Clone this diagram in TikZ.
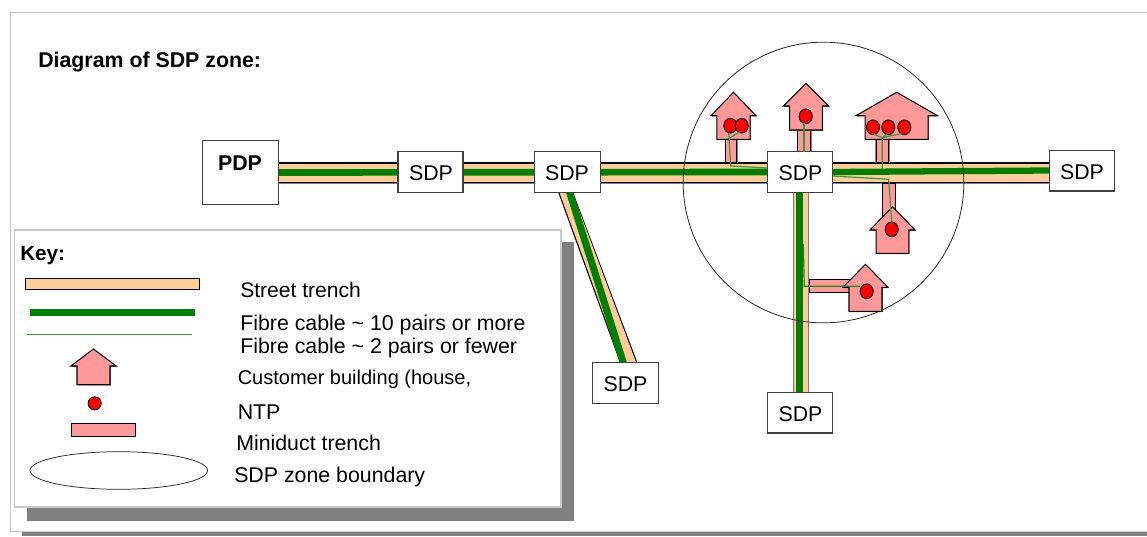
\documentclass[tikz,border=0pt]{standalone}
\usepackage{fontspec}
\setmainfont{Liberation Sans}
\usetikzlibrary{backgrounds,shapes.geometric}
\pgfdeclarelayer{base}
\pgfsetlayers{base,background,main}
\definecolor{trenchtan}{RGB}{255,204,153}
\definecolor{housepink}{RGB}{255,153,153}
\definecolor{shadowgrey}{RGB}{128,128,128}
\definecolor{framegrey}{RGB}{200,200,200}
\definecolor{fibregreen}{RGB}{0,128,0}
\newcommand{\labfont}{\fontsize{16pt}{18pt}\selectfont}
\tikzset{
  lab/.style={anchor=base west,inner sep=0pt,font=\labfont},
  blab/.style={lab,font=\labfont\bfseries},
  boxlab/.style={anchor=base,inner sep=0pt,font=\labfont},
  box/.style={draw=black!75,fill=white,line width=1pt,inner sep=0pt,minimum width=#1*0.75pt},
  sdpbox/.style={box=65,minimum height=30.5pt,anchor=center},
  trenchedge/.style={draw=black,line width=15.4pt},
  trenchshade/.style={draw=shadowgrey,line width=15.4pt},
  trenchfill/.style={draw=trenchtan,line width=14pt},
  thick fibre/.style={draw=fibregreen,line width=5pt},
  thin fibre/.style={draw=fibregreen!80!white,line width=0.9pt},
  duct/.style={fill=housepink,draw=black,line width=0.7pt},
  houseshape/.style={fill=housepink,draw=black,line width=0.8pt,line join=miter},
  ntp/.style={ellipse,draw=black,fill=red,line width=0.7pt,minimum width=9.8pt,minimum height=11pt,inner sep=0pt},
}
% apex x, apex y, eave half width, eave y, body half width, bottom y
\newcommand{\housepath}[6]{(#1,#2) -- (#1+#3,#4) -- (#1+#5,#4) -- (#1+#5,#6) -- (#1-#5,#6) -- (#1-#5,#4) -- (#1-#3,#4) -- cycle}
\newcommand{\drawhouse}[6]{%
  \fill[shadowgrey] [shift={(0.9,0.9)}] \housepath{#1}{#2}{#3}{#4}{#5}{#6};
  \draw[houseshape] \housepath{#1}{#2}{#3}{#4}{#5}{#6};}
\newcommand{\drawduct}[4]{%
  \fill[shadowgrey] (#1-1,#2) rectangle (#3+1,#4+1);
  \draw[duct] (#1,#2) rectangle (#3,#4);}
\begin{document}
\begin{tikzpicture}[x=0.75pt,y=-0.75pt]
\useasboundingbox (0,0) rectangle (1147,536);
\begin{pgfonlayer}{base}
  % outer frame and its shadow
  \fill[shadowgrey] (22,532) rectangle (1147,536);
  \draw[framegrey,line width=1.1pt,fill=white] (10.5,12.7) -- (1150,12.7) -- (1150,531.5) -- (10.5,531.5) -- cycle;
\end{pgfonlayer}

% boxes
\node[box=76,minimum height=48.3pt] (pdp) at (240.2,172.5) {};
\node[sdpbox] (sdpa) at (430.5,172) {};
\node[sdpbox,minimum width=49.8pt] (sdpb) at (567.5,172) {};
\node[sdpbox] (sdpc) at (800,172) {};
\node[sdpbox] (sdpd) at (1082,170.5) {};
\node[sdpbox,minimum width=49.5pt] (sdpe) at (625.3,383) {};
\node[sdpbox] (sdpf) at (800,412.8) {};

\node[boxlab,font=\labfont\bfseries] (pdplab) at (240,170.7) {PDP};
\node[boxlab] (sdpalab) at (431,180.7) {SDP};
\node[boxlab] (sdpblab) at (567,180.7) {SDP};
\node[boxlab] (sdpclab) at (800.5,180.7) {SDP};
\node[boxlab] (sdpdlab) at (1082,179) {SDP};
\node[boxlab] (sdpelab) at (625.5,391.5) {SDP};
\node[boxlab] (sdpflab) at (800.5,421) {SDP};

\begin{scope}[on background layer]
  % street trenches
  \draw[trenchshade] (pdp.east |- 0,173.5) -- (sdpd.west |- 0,173.5);
  \draw[trenchedge] (pdp.east) -- (sdpd.west |- pdp.east);
  \draw[trenchfill] (pdp.east |- 0,173) -- (sdpd.west |- 0,173);
  \draw[trenchshade,line width=12.4pt] (sdpc.south -| 801.2,0) -- (sdpf.north -| 801.2,0);
  \draw[trenchfill,line width=10.1pt] (sdpc.south -| 801.2,0) -- (sdpf.north -| 801.2,0);
  \fill[black] (558,192) -- (573,192) -- (637.5,362.7) -- (620,362.7) -- cycle;
  \fill[trenchtan] (559.3,192) -- (572.2,192) -- (636.2,362.7) -- (621.3,362.7) -- cycle;
  % ducts
  \drawduct{725.5}{139}{736.7}{162.3}
  \drawduct{797.5}{130}{810.5}{152}
  \drawduct{876}{139}{888.7}{162.3}
  \drawduct{882.5}{183.5}{895.3}{216}
  \fill[shadowgrey] (809,278.9) rectangle (852,293.1);
  \draw[duct] (809,279.7) rectangle (852,292.3);
  % thick fibres
  \draw[thick fibre] (pdp.east) ++(-2,0) -- (sdpc.west);
  \draw[thick fibre,line width=4.7pt] (sdpc.east) -- (sdpd.west);
  \draw[thick fibre,line width=5.5pt] (sdpc.south -| 799.7,0) -- (sdpf.north -| 799.7,0);
  \draw[thick fibre,line width=5.3pt] (569.5,192) -- (623.3,362.7);
  % zone boundary
  \node[circle,draw=black!85,line width=0.6pt,minimum size=210.5pt,inner sep=0pt] (zone) at (823.5,182.5) {};
\end{scope}

% houses
\drawhouse{733.5}{92.3}{22.5}{115.7}{16.7}{139.3}
\drawhouse{806}{83.3}{22.7}{106}{16.3}{130}
\drawhouse{896.7}{92.3}{40.8}{115.7}{31.5}{139.3}
\drawhouse{892.5}{206.7}{22.5}{230}{16.3}{253.3}
\drawhouse{865.5}{264.3}{22.5}{287.3}{16.5}{311.3}

% NTPs
\node[ntp] (n1) at (730.3,125.7) {};
\node[ntp] (n2) at (741.7,125.7) {};
\node[ntp] (n3) at (805.7,116.3) {};
\node[ntp] (n4) at (873,127.3) {};
\node[ntp] (n5) at (888.3,127.3) {};
\node[ntp] (n6) at (904.3,127.3) {};
\node[ntp] (n7) at (891.7,229.3) {};
\node[ntp] (n8) at (866.7,291.3) {};

% thin fibres
\coordinate (j1) at (730.7,166);
\coordinate (j1b) at (729.3,138.3);
\draw[thin fibre] (sdpc.west |- 0,168) -- (j1) -- (728.7,132.5);
\draw[thin fibre] (j1b) -- (740,131.7);
\draw[thin fibre] (804,123.3) -- (804,152);
\coordinate (j3) at (882.3,169);
\coordinate (j3b) at (882.3,137.7);
\draw[thin fibre] (j3) -- (j3b) -- (871.7,133.3);
\draw[thin fibre] (j3b) -- (888,133.3);
\draw[thin fibre] (j3b) -- (902.7,133.3);
\coordinate (j4) at (888.7,179.3);
\draw[thin fibre] (sdpc.east |- 0,176) -- (j4) -- (891.7,222.7);
\coordinate (j5) at (804.3,286.3);
\draw[thin fibre,draw=fibregreen!90!white] (803.3,244) -- (j5) -- (860,286.3);

% key panel
\fill[shadowgrey] (27,242) rectangle (574,521);
\draw[framegrey,line width=0.9pt,fill=white] (14.5,230) rectangle (561,507);
\node[blab,font=\fontsize{15.5pt}{18pt}\selectfont\bfseries] (keytitle) at (20,260) {Key:};
\node[draw=black,fill=trenchtan,line width=0.7pt,minimum width=130pt,minimum height=8pt,inner sep=0pt] (ktrench) at (112.5,283.8) {};
\coordinate (kfa) at (30,312.3); \coordinate (kfb) at (195,312.3);
\draw[thick fibre] (kfa) -- (kfb);
\coordinate (kta) at (27,334.7); \coordinate (ktb) at (192,334.7);
\draw[thin fibre] (kta) -- (ktb);
\drawhouse{93.5}{349}{22.7}{366}{16.5}{384.7}
\node[ntp,minimum width=9.8pt,minimum height=9.8pt] (kntp) at (94.7,403.3) {};
\node[draw=black,fill=housepink,line width=0.7pt,minimum width=48.5pt,minimum height=9.7pt,inner sep=0pt] (kduct) at (103.3,429.8) {};
\node[ellipse,draw=black!85,line width=0.55pt,minimum width=133.2pt,minimum height=28.2pt,inner sep=0pt] (kzone) at (118.8,470.5) {};

% labels
\node[blab] (title) at (38,67) {Diagram of SDP zone:};
\node[lab,font=\fontsize{15.8pt}{18pt}\selectfont] (t1) at (240,297.7) {Street trench};
\node[lab] (t2) at (240,330) {Fibre cable \textasciitilde{} 10 pairs or more};
\node[lab] (t3) at (240,353.3) {Fibre cable \textasciitilde{} 2 pairs or fewer};
\node[lab,font=\fontsize{15pt}{18pt}\selectfont] (t4) at (237.5,384) {Customer building (house,};
\node[lab] (t5) at (237.5,419) {NTP};
\node[lab] (t6) at (236,450) {Miniduct trench};
\node[lab] (t7) at (234,482.7) {SDP zone boundary};
\end{tikzpicture}
\end{document}
